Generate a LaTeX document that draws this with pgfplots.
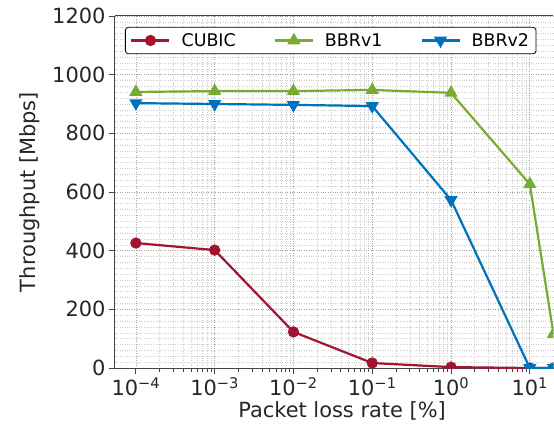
\documentclass[border=0pt]{standalone}
\usepackage{pgfplots}
\pgfplotsset{compat=1.18}
\usepackage{fontspec}
\setmainfont{DejaVu Sans}
\definecolor{cred}{HTML}{A2142F}
\definecolor{cgreen}{HTML}{77AC30}
\definecolor{cblue}{HTML}{0072BD}
\definecolor{spine}{HTML}{444444}
\begin{document}
\begin{tikzpicture}
\begin{axis}[
  name=main,
  scale only axis, width=438.5bp, height=352bp,
  xmode=log, xmin=5.43e-5, xmax=20,
  ymin=0, ymax=1200,
  ytick={0,200,400,600,800,1000,1200},
  minor y tick num=9,
  xtick={1e-4,1e-3,1e-2,1e-1,1,10},
  xticklabels={10\textsuperscript{−4},10\textsuperscript{−3},10\textsuperscript{−2},10\textsuperscript{−1},10\textsuperscript{0},10\textsuperscript{1}},
  /pgf/number format/assume math mode=true,
  yticklabel style={/pgf/number format/1000 sep={}},
  tick label style={font=\fontsize{21}{24}\selectfont, color=black!85},
  label style={font=\fontsize{21}{24}\selectfont, color=black!85},
  xlabel={Packet loss rate [\%]},
  ylabel={Throughput [Mbps]},
  xlabel style={at={(axis description cs:0.518,-0.122)},anchor=center},
  ylabel style={at={(axis description cs:-0.194,0.5)},anchor=center},
  separate axis lines,
  axis x line*=box, axis y line*=left,
  tick align=outside, xtick pos=bottom, ytick pos=left,
  major tick length=6bp, minor tick length=3.5bp,
  every tick/.style={spine, line width=0.8bp},
  minor y tick style={draw=none},
  axis line style={spine, line width=1bp},
  grid=both,
  major grid style={dotted, black!36, line width=0.6bp},
  minor grid style={dotted, black!20, line width=0.5bp},
  clip marker paths=true,
  legend columns=3,
  legend style={at={(axis description cs:0.0228,0.969)}, anchor=north west,
    draw=black, rounded corners=3bp, line width=0.8bp,
    font=\fontsize{17.5}{20}\selectfont, inner xsep=5bp, inner ysep=4bp,
    /tikz/every odd column/.append style={column sep=9bp},
    /tikz/every even column/.append style={column sep=36bp}},
  legend image code/.code={\draw[mark repeat=2,mark phase=2] plot coordinates {(0bp,0bp) (19bp,0bp) (38bp,0bp)};},
  every axis plot/.append style={line width=2.2bp},
]
\addplot[color=cred, mark=*, mark size=4.5bp] coordinates {
 (1e-4,426) (1e-3,402) (1e-2,123) (1e-1,17) (1,3) (10,0) (20,0)};
\addlegendentry{CUBIC}
\addplot[color=cgreen, mark=triangle*, mark size=5.5bp] coordinates {
 (1e-4,941) (1e-3,944) (1e-2,944) (1e-1,948) (1,938) (10,627) (20,116)};
\addlegendentry{BBRv1}
\addplot[color=cblue, mark=triangle*, mark size=5.5bp, mark options={rotate=180}] coordinates {
 (1e-4,903) (1e-3,900) (1e-2,897) (1e-1,893) (1,573) (10,0) (20,0)};
\addlegendentry{BBRv2}
\end{axis}
\path (main.south west) ++(-115bp,-62bp) rectangle ++(554bp,430bp);
\end{tikzpicture}
\end{document}
